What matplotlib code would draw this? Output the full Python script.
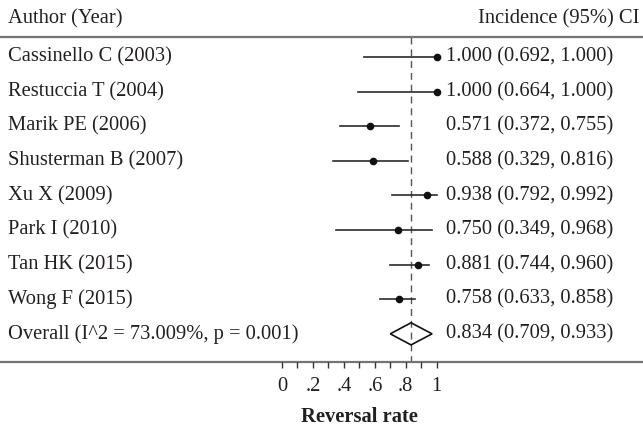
import matplotlib.pyplot as plt
from matplotlib.patches import Polygon
from matplotlib.transforms import blended_transform_factory

studies = ['Cassinello C (2003)', 'Restuccia T (2004)', 'Marik PE (2006)',
           'Shusterman B (2007)', 'Xu X (2009)', 'Park I (2010)',
           'Tan HK (2015)', 'Wong F (2015)']
estimates = [1.000, 1.000, 0.571, 0.588, 0.938, 0.750, 0.881, 0.758]
ci_text = ['1.000 (0.692, 1.000)', '1.000 (0.664, 1.000)', '0.571 (0.372, 0.755)',
           '0.588 (0.329, 0.816)', '0.938 (0.792, 0.992)', '0.750 (0.349, 0.968)',
           '0.881 (0.744, 0.960)', '0.758 (0.633, 0.858)']
# whisker ends as they are drawn in the figure
lower_drawn = [0.53, 0.49, 0.372, 0.329, 0.71, 0.349, 0.70, 0.633]
upper_drawn = [1.0, 1.0, 0.755, 0.816, 1.0, 0.968, 0.95, 0.858]

overall_name = 'Overall (I^2 = 73.009%, p = 0.001)'
overall_est = 0.834
overall_lo = 0.70
overall_hi = 0.97
overall_text = '0.834 (0.709, 0.933)'

tick_values = [0, 0.1, 0.2, 0.3, 0.4, 0.5, 0.6, 0.7, 0.8, 0.9, 1.0]
tick_labels = ['0', '', '.2', '', '.4', '', '.6', '', '.8', '', '1']

plt.rcParams['font.family'] = ['Liberation Serif', 'DejaVu Serif']
plt.rcParams['font.size'] = 14.8
txt_color = '#231f20'

fig = plt.figure(figsize=(6.43, 4.29), dpi=100)
ax = fig.add_axes([0, 0, 1, 1])
ax.set_xlim(-282 / 154.7, 361 / 154.7)
ax.set_ylim(10.75, -1.647)
ax.axis('off')
left = blended_transform_factory(ax.transAxes, ax.transData)

top_y = -0.578
axis_y = 8.80
n = len(studies)

# header
ax.text(8 / 643, -1.1, 'Author (Year)', transform=left, va='center', color=txt_color)
ax.text(639 / 643, -1.1, 'Incidence (95%) CI', transform=left, va='center',
        ha='right', color=txt_color)
ax.axhline(top_y, color='#747474', lw=1.6)
ax.axhline(axis_y, color='#747474', lw=1.6)

# reference line at pooled estimate
ax.vlines(overall_est, top_y, axis_y, colors='#555555', lw=1.0,
          linestyles=(0, (5, 3.5)), zorder=1)

for i in range(n):
    ax.plot([lower_drawn[i], upper_drawn[i]], [i, i], color='#2b2b2b', lw=1.2, zorder=2)
    ax.plot(estimates[i], i, 'o', ms=4.5, color='#111111', zorder=3)
    ax.text(8 / 643, i, studies[i], transform=left, va='center', color=txt_color)
    ax.text(1.06, i, ci_text[i], va='center', color=txt_color)

# pooled diamond
h = 0.32
diamond = Polygon([(overall_lo, n), (overall_est, n - h), (overall_hi, n), (overall_est, n + h)],
                  closed=True, facecolor='none', edgecolor='#111111', lw=1.2, zorder=3)
ax.add_patch(diamond)
ax.text(8 / 643, n, overall_name, transform=left, va='center', color=txt_color)
ax.text(1.06, n, overall_text, va='center', color=txt_color)

# x axis ticks
ax.vlines(tick_values, axis_y, axis_y + 6 / 34.6, colors='#333333', lw=1.0)
for v, lab in zip(tick_values, tick_labels):
    if lab:
        ax.text(v, 9.53, lab, ha='center', va='center', color=txt_color)
ax.text(0.5, 10.40, 'Reversal rate', ha='center', va='center',
        fontweight='bold', color=txt_color)

fig.savefig('out.png', dpi=100)
